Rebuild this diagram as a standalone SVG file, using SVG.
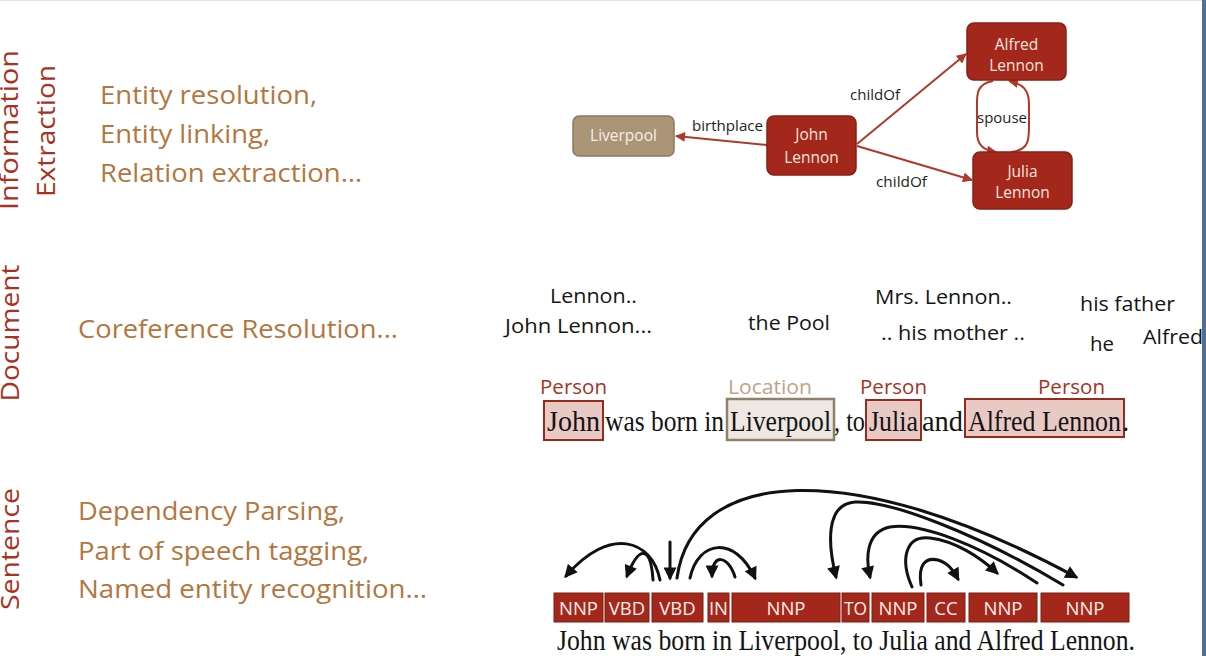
<svg xmlns="http://www.w3.org/2000/svg" width="1206" height="656" viewBox="0 0 1206 656">
<style>
.sans{font-family:"Open Sans","Liberation Sans",sans-serif}
.side{fill:#a8321f;font-size:26px;text-anchor:middle}
.task{fill:#b4763f;font-size:26px}
.mention{fill:#141414;font-size:20.5px}
.ent{font-size:20.5px}
.person{fill:#a8321f}
.loc{fill:#b9a58a}
.ser{font-family:"Liberation Serif","Times New Roman",serif;fill:#141414;font-size:29px}
.node rect{fill:#a3281b;stroke:#891f14;stroke-width:1.5}
.node text{fill:#f6e4df;font-size:15.5px;text-anchor:middle}
.node.place rect{fill:#ab9577;stroke:#8d7a60}
.node.place text{fill:#f5efe7}
.kglab{fill:#1e1e1e;font-size:14.5px}
.kg{stroke:#b03829;stroke-width:2;fill:none;marker-end:url(#ka)}
.dep{stroke:#111;stroke-width:3;fill:none;stroke-linecap:round}
.arr{marker-end:url(#da)}
.tag rect{fill:#a3281b;stroke:#7e1c12;stroke-width:1}
.tag text{fill:#fbefec;font-size:18.5px;text-anchor:middle}
.mark.p{fill:#e9c9c4;stroke:#962a1d;stroke-width:2}
.mark.l{fill:#efe8e2;stroke:#8f806a;stroke-width:2.5}
</style>
<defs>
<marker id="ka" viewBox="0 0 10 10" refX="9" refY="5" markerWidth="11" markerHeight="10" markerUnits="userSpaceOnUse" orient="auto"><path d="M0,0 L10,5 L0,10 z" fill="#b03829"/></marker>
<marker id="da" viewBox="0 0 10 10" refX="8" refY="5" markerWidth="14" markerHeight="13" markerUnits="userSpaceOnUse" orient="auto"><path d="M0,0 L10,5 L0,10 z" fill="#111"/></marker>
</defs>
<rect width="1206" height="656" fill="#fff"/>
<line x1="0" y1="0.5" x2="1202" y2="0.5" stroke="#e2e2e2"/>
<rect x="1202" y="0" width="4" height="656" fill="#4f6f94"/>

<g id="labels-left" class="sans">
<text class="side" transform="translate(18,130) rotate(-90)" textLength="160" lengthAdjust="spacingAndGlyphs">Information</text>
<text class="side" transform="translate(55,131) rotate(-90)" textLength="132" lengthAdjust="spacingAndGlyphs">Extraction</text>
<text class="side" transform="translate(19,333) rotate(-90)" textLength="137" lengthAdjust="spacingAndGlyphs">Document</text>
<text class="side" transform="translate(19,549) rotate(-90)" textLength="122" lengthAdjust="spacingAndGlyphs">Sentence</text>
</g>

<g id="tasks" class="sans">
<text class="task" x="100" y="104" textLength="217" lengthAdjust="spacingAndGlyphs">Entity resolution,</text>
<text class="task" x="100" y="143" textLength="170" lengthAdjust="spacingAndGlyphs">Entity linking,</text>
<text class="task" x="100" y="182" textLength="262" lengthAdjust="spacingAndGlyphs">Relation extraction…</text>
<text class="task" x="78" y="338" textLength="320" lengthAdjust="spacingAndGlyphs">Coreference Resolution...</text>
<text class="task" x="78" y="520" textLength="267" lengthAdjust="spacingAndGlyphs">Dependency Parsing,</text>
<text class="task" x="78" y="560" textLength="291" lengthAdjust="spacingAndGlyphs">Part of speech tagging,</text>
<text class="task" x="78" y="598" textLength="349" lengthAdjust="spacingAndGlyphs">Named entity recognition…</text>
</g>

<g id="kg-connectors" class="sans">
<path class="kg" d="M767 145 L676 136"/>
<path class="kg" d="M857 144 L966 54"/>
<path class="kg" d="M857 146 L972 180"/>
<path class="kg" d="M993 81 C975 84 977 96 977 110 L977 132 C977 146 984 150 996 152"/>
<path class="kg" d="M1011 152 C1029 150 1029 140 1029 126 L1029 104 C1029 90 1023 84 1009 81"/>
<text class="kglab" x="692" y="131" textLength="71" lengthAdjust="spacingAndGlyphs">birthplace</text>
<text class="kglab" x="850" y="100" textLength="50" lengthAdjust="spacingAndGlyphs">childOf</text>
<text class="kglab" x="876" y="187" textLength="51" lengthAdjust="spacingAndGlyphs">childOf</text>
<text class="kglab" x="977" y="123" textLength="50" lengthAdjust="spacingAndGlyphs">spouse</text>
</g>

<g id="node-liverpool" class="node place sans"><rect x="573" y="116" width="101" height="40" rx="6"/><text x="623.5" y="141">Liverpool</text></g>
<g id="node-john" class="node sans"><rect x="767" y="116" width="89" height="59" rx="7"/><text x="811.5" y="140">John</text><text x="811.5" y="163">Lennon</text></g>
<g id="node-alfred" class="node sans"><rect x="967" y="23" width="99" height="57" rx="7"/><text x="1016.5" y="50">Alfred</text><text x="1016.5" y="71">Lennon</text></g>
<g id="node-julia" class="node sans"><rect x="973" y="152" width="99" height="57" rx="7"/><text x="1022.5" y="177">Julia</text><text x="1022.5" y="198">Lennon</text></g>

<g id="mentions" class="sans">
<text class="mention" x="550" y="303" textLength="87" lengthAdjust="spacingAndGlyphs">Lennon..</text>
<text class="mention" x="505" y="333" textLength="147" lengthAdjust="spacingAndGlyphs">John Lennon...</text>
<text class="mention" x="748" y="330" textLength="82" lengthAdjust="spacingAndGlyphs">the Pool</text>
<text class="mention" x="875" y="304" textLength="137" lengthAdjust="spacingAndGlyphs">Mrs. Lennon..</text>
<text class="mention" x="881" y="340" textLength="144" lengthAdjust="spacingAndGlyphs">.. his mother ..</text>
<text class="mention" x="1080" y="311" textLength="95" lengthAdjust="spacingAndGlyphs">his father</text>
<text class="mention" x="1090" y="351" textLength="24" lengthAdjust="spacingAndGlyphs">he</text>
<text class="mention" x="1143" y="344" textLength="60" lengthAdjust="spacingAndGlyphs">Alfred</text>
</g>

<g id="ner">
<g class="sans ent">
<text class="person" x="540" y="394" textLength="67" lengthAdjust="spacingAndGlyphs">Person</text>
<text class="loc" x="728" y="394" textLength="84" lengthAdjust="spacingAndGlyphs">Location</text>
<text class="person" x="860" y="394" textLength="67" lengthAdjust="spacingAndGlyphs">Person</text>
<text class="person" x="1038" y="394" textLength="67" lengthAdjust="spacingAndGlyphs">Person</text>
</g>
<rect class="mark p" x="544" y="401" width="59" height="39"/>
<rect class="mark l" x="727" y="399" width="107" height="41"/>
<rect class="mark p" x="866" y="400" width="55" height="40"/>
<rect class="mark p" x="965" y="399" width="159" height="38"/>
<g class="ser">
<text x="547" y="431" textLength="53" lengthAdjust="spacingAndGlyphs">John</text>
<text x="605" y="431" textLength="119" lengthAdjust="spacingAndGlyphs">was born in</text>
<text x="730" y="431" textLength="101" lengthAdjust="spacingAndGlyphs">Liverpool</text>
<text x="834" y="431" textLength="31" lengthAdjust="spacingAndGlyphs">, to</text>
<text x="869" y="431" textLength="49" lengthAdjust="spacingAndGlyphs">Julia</text>
<text x="922" y="431" textLength="41" lengthAdjust="spacingAndGlyphs">and</text>
<text x="968" y="431" textLength="153" lengthAdjust="spacingAndGlyphs">Alfred Lennon</text>
<text x="1122" y="431">.</text>
</g>
</g>

<g id="dep-connectors">
<path class="dep arr" d="M660 580 C652 540 610 525 566 576"/>
<path class="dep arr" d="M653 580 C651 548 640 543 627 576"/>
<path class="dep arr" d="M670 542 L670 578"/>
<path class="dep arr" d="M677 578 C692 468 850 455 1076 577"/>
<path class="dep arr" d="M690 578 C698 540 735 535 755 578"/>
<path class="dep arr" d="M735 577 C728 555 712 553 712 576"/>
<path class="dep arr" d="M1063 585 C980 535 890 500 855 502 C825 504 828 545 836 577"/>
<path class="dep arr" d="M1037 583 C980 545 920 522 890 527 C865 532 866 560 870 577"/>
<path class="dep arr" d="M912 587 C900 560 905 535 930 538 C955 541 980 557 997 573"/>
<path class="dep arr" d="M921 585 C918 565 925 557 938 560 C948 563 953 570 958 579"/>
</g>

<g id="tags" class="sans">
<g id="tag-1" class="tag"><rect x="554" y="593" width="49" height="29"/><text x="578.5" y="614.5">NNP</text></g>
<g id="tag-2" class="tag"><rect x="605" y="593" width="44" height="29"/><text x="627" y="614.5">VBD</text></g>
<g id="tag-3" class="tag"><rect x="652" y="593" width="51" height="29"/><text x="677.5" y="614.5">VBD</text></g>
<g id="tag-4" class="tag"><rect x="708" y="593" width="21" height="29"/><text x="718.5" y="614.5">IN</text></g>
<g id="tag-5" class="tag"><rect x="732" y="593" width="108" height="29"/><text x="786" y="614.5">NNP</text></g>
<g id="tag-6" class="tag"><rect x="842" y="593" width="27" height="29"/><text x="855.5" y="614.5" textLength="23" lengthAdjust="spacingAndGlyphs">TO</text></g>
<g id="tag-7" class="tag"><rect x="872" y="593" width="52" height="29"/><text x="898" y="614.5">NNP</text></g>
<g id="tag-8" class="tag"><rect x="927" y="593" width="38" height="29"/><text x="946" y="614.5">CC</text></g>
<g id="tag-9" class="tag"><rect x="969" y="593" width="68" height="29"/><text x="1003" y="614.5">NNP</text></g>
<g id="tag-10" class="tag"><rect x="1041" y="593" width="88" height="29"/><text x="1085" y="614.5">NNP</text></g>
</g>

<text class="ser" x="557" y="650" textLength="578" lengthAdjust="spacingAndGlyphs">John was born in Liverpool, to Julia and Alfred Lennon.</text>
</svg>
